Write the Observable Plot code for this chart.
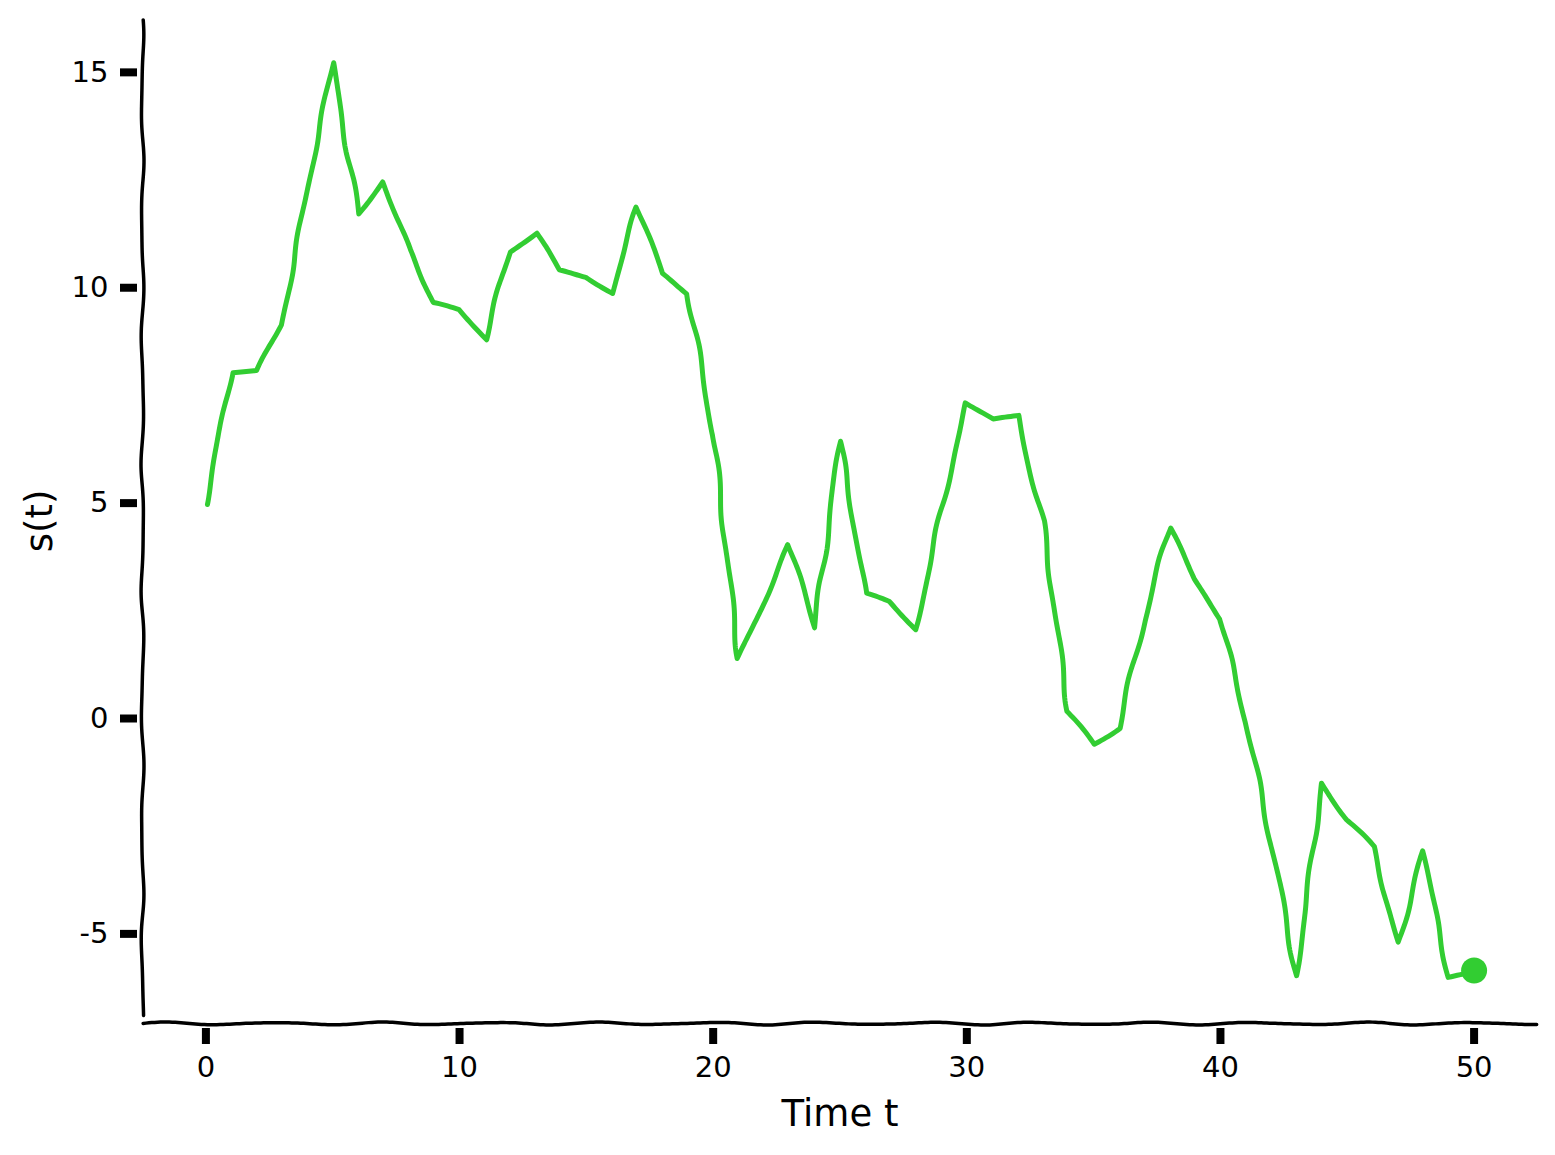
<!DOCTYPE html>
<html><head><meta charset="utf-8">
<script src="https://cdn.jsdelivr.net/npm/d3@7"></script>
<script src="https://cdn.jsdelivr.net/npm/@observablehq/plot@0.6"></script>
<style>body{margin:0;background:#fff}</style>
</head><body><div id="chart"></div>
<script>
const time = [0,1,2,3,4,5,6,7,8,9,10,11,12,13,14,15,16,17,18,19,20,21,22,23,24,25,26,27,28,29,30,31,32,33,34,35,36,37,38,39,40,41,42,43,44,45,46,47,48,49,50];
const values = [5.0,8.02,8.05,9.17,12.3,15.19,11.74,12.45,10.9,9.63,9.47,8.83,10.84,11.29,10.38,10.26,9.89,11.89,10.30,9.89,6.6,1.39,2.73,4.02,2.12,6.47,2.90,2.68,2.10,4.85,7.36,6.93,7.02,4.55,0.15,-0.6,-0.2,2.3,4.45,3.21,2.32,-0.05,-2.87,-5.96,-1.48,-2.37,-2.98,-5.20,-3.11,-6.02,-5.85];
const xTicks = [0,10,20,30,40,50];
const yTicks = [-5,0,5,10,15];
const xLabel = "Time t";
const yLabel = "s(t)";
const lineColor = "#32cd32";

const data = time.map((t, i) => ({t, s: values[i]}));
const last = data[data.length - 1];
const tMin = d3.min(time), tMax = d3.max(time);
const sMin = d3.min(values), sMax = d3.max(values);
const xPad = 0.05 * (tMax - tMin), yPad = 0.05 * (sMax - sMin);
const xDomain = [tMin - xPad, tMax + xPad];
const yDomain = [sMin - yPad, sMax + yPad];
const spineLeft = [{t: xDomain[0], s: yDomain[1]}, {t: xDomain[0], s: yDomain[0]}];
const spineBottom = [{t: xDomain[0], s: yDomain[0]}, {t: xDomain[1], s: yDomain[0]}];
const fmt = d => String(d);

// hand-drawn (xkcd-like) curve: smooth wobble along the arc length, in screen space
function sketchy(amp, phase, trimEnd = 0) {
  return function(context) {
    let pts = [];
    const TAU = Math.PI * 2;
    return {
      areaStart() {}, areaEnd() {},
      lineStart() { pts = []; },
      point(x, y) { pts.push([+x, +y]); },
      lineEnd() {
        if (!pts.length) return;
        let total = 0;
        for (let i = 0; i < pts.length - 1; i++) total += Math.hypot(pts[i + 1][0] - pts[i][0], pts[i + 1][1] - pts[i][1]);
        let s = 0;
        const out = [];
        const wob = (ss) => [
          amp * (0.75 * Math.sin(TAU * ss / 121 + phase) + 0.25 * Math.sin(TAU * ss / 67 + 2 * phase)),
          amp * (0.75 * Math.sin(TAU * ss / 109 + 1.3 + phase) + 0.25 * Math.sin(TAU * ss / 71 + 0.5 + phase))
        ];
        for (let i = 0; i < pts.length - 1; i++) {
          const [x0, y0] = pts[i], [x1, y1] = pts[i + 1];
          const L = Math.hypot(x1 - x0, y1 - y0);
          const n = Math.max(1, Math.ceil(L / 3));
          for (let k = (i === 0 ? 0 : 1); k <= n; k++) {
            const f = k / n;
            if (s + f * L > total - trimEnd) break;
            const [dx, dy] = wob(s + f * L);
            out.push([x0 + f * (x1 - x0) + dx, y0 + f * (y1 - y0) + dy]);
          }
          s += L;
        }
        if (!out.length) out.push(pts[0]);
        context.moveTo(out[0][0], out[0][1]);
        for (let i = 1; i < out.length; i++) context.lineTo(out[i][0], out[i][1]);
      }
    };
  };
}

const chart = Plot.plot({
  width: 1555, height: 1155,
  marginLeft: 142, marginRight: 18, marginTop: 18, marginBottom: 132,
  style: {fontFamily: "DejaVu Sans", background: "white", color: "black"},
  x: {domain: xDomain, axis: null},
  y: {domain: yDomain, axis: null},
  marks: [
    Plot.line(spineLeft, {x: "t", y: "s", stroke: "black", strokeWidth: 3.5, curve: sketchy(1.5, 0.4, 7)}),
    Plot.line(spineBottom, {x: "t", y: "s", stroke: "black", strokeWidth: 3.5, curve: sketchy(1.5, 2.1)}),
    Plot.axisX(xTicks, {tickSize: 16, dy: 5, tickPadding: 12, strokeWidth: 8, fontSize: 29, tickFormat: fmt, label: null}),
    Plot.axisY(yTicks, {tickSize: 17, dx: -5, tickPadding: 12, strokeWidth: 8, fontSize: 29, tickFormat: fmt, label: null}),
    Plot.line(data, {x: "t", y: "s", stroke: lineColor, strokeWidth: 5, strokeLinejoin: "round", strokeLinecap: "round", curve: sketchy(1.8, 1.0)}),
    Plot.dot([last], {x: "t", y: "s", r: 13, fill: lineColor}),
    Plot.text([xLabel], {text: d => d, frameAnchor: "bottom", lineAnchor: "middle", dy: 91, fontSize: 37}),
    Plot.text([yLabel], {text: d => d, frameAnchor: "left", textAnchor: "middle", lineAnchor: "middle", rotate: -90, dx: -102, fontSize: 37})
  ]
});
document.getElementById("chart").append(chart);
</script>
</body></html>
